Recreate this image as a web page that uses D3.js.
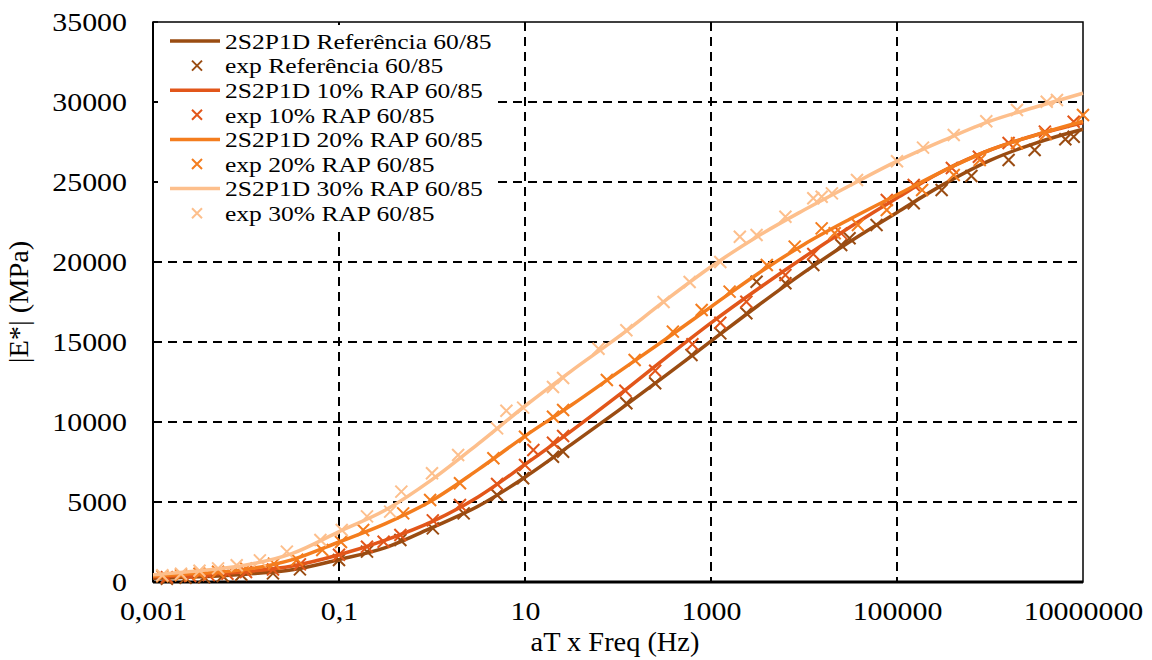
<!DOCTYPE html>
<html>
<head>
<meta charset="utf-8">
<script src="https://cdn.jsdelivr.net/npm/d3@7"></script>
<style>
  body { margin: 0; background: #fff; }
  svg { display: block; }
</style>
</head>
<body>
<svg id="chart"></svg>
<script>
// model curves (2S2P1D), sampled every half decade
const modelFreq = [0.001, 0.00316, 0.01, 0.0316, 0.1, 0.316, 1, 3.16, 10, 31.6, 100, 316, 1000, 3162, 10000, 31623, 100000, 316228, 1000000, 3162278, 10000000];
const modelRef = [230, 330, 490, 760, 1400, 2150, 3400, 4750, 6550, 8600, 10700, 12850, 15050, 17250, 19350, 21300, 23100, 24850, 26350, 27450, 28300];
const model10 = [330, 440, 650, 1000, 1700, 2620, 3770, 5330, 7350, 9450, 11650, 13950, 16200, 18300, 20300, 22200, 24000, 25700, 27000, 27950, 28700];
const model20 = [375, 540, 790, 1400, 2500, 3650, 5100, 7040, 9120, 11060, 13100, 15125, 17200, 19250, 21100, 22700, 24200, 25700, 27000, 27950, 28800];
const model30 = [460, 710, 1060, 1790, 3150, 4500, 6400, 8650, 11000, 13200, 15300, 17550, 19700, 21600, 23250, 24800, 26300, 27600, 28800, 29700, 30550];

// experimental points
const expRefFreq = [0.00141, 0.00224, 0.00355, 0.00562, 0.00891, 0.0195, 0.038, 0.1, 0.2, 0.457, 1.02, 2.19, 5.01, 9.55, 20, 25.7, 123, 251, 617, 1259, 2399, 3090, 6310, 12589, 25119, 30903, 60256, 151356, 301995, 630957, 1584893, 3019952, 6456542, 7943282];
const expRef = [200, 260, 300, 380, 450, 540, 790, 1375, 1900, 2625, 3350, 4290, 5440, 6480, 7830, 8140, 11170, 12420, 14190, 15540, 16800, 18770, 18670, 19810, 21060, 21480, 22310, 23670, 24500, 25375, 26375, 27000, 27670, 27830];

const exp10Freq = [0.00141, 0.00251, 0.00398, 0.00631, 0.01, 0.0195, 0.038, 0.1, 0.2, 0.302, 0.457, 1.02, 2.0, 5.01, 10, 12.3, 20, 25.7, 120, 251, 631, 1259, 2399, 6310, 12589, 25119, 77625, 151356, 389045, 758578, 1584893, 3890451, 7943282];
const exp10 = [300, 380, 430, 520, 620, 780, 1100, 1700, 2200, 2520, 2940, 3850, 4810, 6120, 7310, 8250, 8700, 9130, 11950, 13200, 14860, 16200, 17520, 19190, 20500, 21790, 23875, 24810, 25880, 26580, 27440, 28150, 28770];

const exp20Freq = [0.00126, 0.002, 0.00316, 0.00501, 0.01, 0.02, 0.0355, 0.0661, 0.105, 0.182, 0.49, 0.955, 2.0, 4.57, 10, 20, 25.7, 75.9, 151, 389, 794, 1585, 3981, 7943, 15488, 21380, 38019, 77625, 186209, 407380, 776247, 1949845, 3981072, 10000000];
const exp20 = [350, 420, 520, 640, 850, 1150, 1400, 2000, 2500, 3250, 4290, 5125, 6170, 7730, 9080, 10330, 10750, 12625, 13875, 15650, 17000, 18150, 19810, 20960, 22100, 21800, 22310, 23250, 24500, 25440, 26375, 27420, 28000, 29190];

const exp30Freq = [0.00126, 0.002, 0.00316, 0.00501, 0.00794, 0.0141, 0.0275, 0.0631, 0.107, 0.2, 0.355, 0.468, 1, 1.91, 5.01, 6.31, 9.55, 20, 25.7, 61.7, 123, 309, 589, 1259, 2042, 3090, 6310, 12589, 15488, 19953, 37154, 100000, 190546, 407380, 912011, 1949845, 4073803, 5248075];
const exp30 = [420, 520, 700, 850, 1050, 1350, 1900, 2625, 3250, 4100, 4400, 5650, 6800, 7940, 9600, 10700, 10900, 12190, 12750, 14580, 15730, 17500, 18750, 20000, 21580, 21690, 22830, 23980, 24080, 24290, 25125, 26300, 27150, 27940, 28800, 29500, 30020, 30125];

const xTicks = [0.001, 0.1, 10, 1000, 100000, 10000000];
const xTickLabels = ['0,001', '0,1', '10', '1000', '100000', '10000000'];
const yTicks = [0, 5000, 10000, 15000, 20000, 25000, 30000, 35000];

const seriesNames = ['Referência 60/85', '10% RAP 60/85', '20% RAP 60/85', '30% RAP 60/85'];
const colors = ['#9a4c12', '#e2561a', '#f47d1e', '#fdbf8c'];

const width = 1152, height = 660;
const margin = { top: 22, right: 69, bottom: 78, left: 153 };
const w = width - margin.left - margin.right;
const h = height - margin.top - margin.bottom;
const font = "'Liberation Serif', 'Times New Roman', serif";

const svg = d3.select('#chart')
  .attr('width', width)
  .attr('height', height)
  .style('font-family', font);

const g = svg.append('g')
  .attr('transform', `translate(${margin.left},${margin.top})`);

const x = d3.scaleLog().domain([0.001, 10000000]).range([0, w]);
const y = d3.scaleLinear().domain([0, 35000]).range([h, 0]);

// widen text a bit, the original font is wider than Liberation Serif
const stretch = (sel, k) => {
  sel.each(function () {
    const len = this.getComputedTextLength();
    d3.select(this).attr('textLength', len * k).attr('lengthAdjust', 'spacingAndGlyphs');
  });
};

// grid
g.append('g')
  .selectAll('line')
  .data(xTicks.slice(1, -1))
  .enter()
  .append('line')
  .attr('x1', d => x(d)).attr('x2', d => x(d))
  .attr('y1', 0).attr('y2', h)
  .attr('stroke', '#000')
  .attr('stroke-width', 2)
  .attr('stroke-dasharray', '9,6');

g.append('g')
  .selectAll('line')
  .data(yTicks.slice(1, -1))
  .enter()
  .append('line')
  .attr('x1', 0).attr('x2', w)
  .attr('y1', d => y(d)).attr('y2', d => y(d))
  .attr('stroke', '#000')
  .attr('stroke-width', 2)
  .attr('stroke-dasharray', '9,6');

// axes
const xAxis = g.append('g')
  .attr('transform', `translate(0,${h})`)
  .call(d3.axisBottom(x).tickValues(xTicks).tickFormat((d, i) => xTickLabels[i]).tickSize(0).tickPadding(20));
xAxis.select('.domain').remove();
xAxis.selectAll('text')
  .attr('font-family', font)
  .attr('font-size', 26)
  .attr('fill', '#000')
  .call(stretch, 1.15);

const yAxis = g.append('g')
  .call(d3.axisLeft(y).tickValues(yTicks).tickFormat(d3.format('d')).tickSize(0).tickPadding(26));
yAxis.select('.domain').remove();
yAxis.selectAll('text')
  .attr('font-family', font)
  .attr('font-size', 26)
  .attr('fill', '#000')
  .call(stretch, 1.15);

// small inside ticks on the left axis
g.append('g')
  .selectAll('line')
  .data(yTicks)
  .enter()
  .append('line')
  .attr('x1', 0).attr('x2', 5)
  .attr('y1', d => y(d)).attr('y2', d => y(d))
  .attr('stroke', '#000')
  .attr('stroke-width', 1.5);

// frame
g.append('rect')
  .attr('x', 0).attr('y', 0)
  .attr('width', w).attr('height', h)
  .attr('fill', 'none')
  .attr('stroke', '#000')
  .attr('stroke-width', 1.5);
g.append('line')
  .attr('x1', 0).attr('x2', w)
  .attr('y1', h).attr('y2', h)
  .attr('stroke', '#000')
  .attr('stroke-width', 3);
g.append('line')
  .attr('x1', 0).attr('x2', 0)
  .attr('y1', 0).attr('y2', h)
  .attr('stroke', '#000')
  .attr('stroke-width', 2);

// axis titles
svg.append('text')
  .attr('x', margin.left + w / 2 - 3)
  .attr('y', 651)
  .attr('text-anchor', 'middle')
  .attr('font-size', 27)
  .text('aT x Freq (Hz)')
  .call(stretch, 1.05);

svg.append('text')
  .attr('transform', `translate(28,${margin.top + h / 2}) rotate(-90)`)
  .attr('text-anchor', 'middle')
  .attr('font-size', 27)
  .text('|E*| (MPa)')
  .call(stretch, 1.05);

// data
const models = [modelRef, model10, model20, model30];
const exps = [[expRefFreq, expRef], [exp10Freq, exp10], [exp20Freq, exp20], [exp30Freq, exp30]];

const line = d3.line()
  .x(d => x(d[0]))
  .y(d => y(d[1]))
  .curve(d3.curveMonotoneX);

const plot = g.append('g');
const cross = 6;

models.forEach((vals, i) => {
  plot.append('path')
    .datum(modelFreq.map((f, j) => [f, vals[j]]))
    .attr('fill', 'none')
    .attr('stroke', colors[i])
    .attr('stroke-width', 3.5)
    .attr('d', line);

  const pts = exps[i][0].map((f, j) => [f, exps[i][1][j]]);
  plot.append('g')
    .selectAll('path')
    .data(pts)
    .enter()
    .append('path')
    .attr('d', d => {
      const cx = x(d[0]), cy = y(d[1]);
      return `M${cx - cross},${cy - cross}L${cx + cross},${cy + cross}M${cx - cross},${cy + cross}L${cx + cross},${cy - cross}`;
    })
    .attr('stroke', colors[i])
    .attr('stroke-width', 2)
    .attr('fill', 'none');
});

// legend
const legend = svg.append('g');
legend.append('rect')
  .attr('x', 158).attr('y', 25)
  .attr('width', 338).attr('height', 201)
  .attr('fill', '#fff');

const legendItems = [];
seriesNames.forEach((name, i) => {
  legendItems.push({ type: 'line', label: `2S2P1D ${name}`, color: colors[i] });
  legendItems.push({ type: 'exp', label: `exp ${name}`, color: colors[i] });
});

const rows = legend.selectAll('g.row')
  .data(legendItems)
  .enter()
  .append('g')
  .attr('class', 'row')
  .attr('transform', (d, i) => `translate(0,${41 + i * 24.6})`);

rows.filter(d => d.type === 'line')
  .append('line')
  .attr('x1', 170).attr('x2', 220)
  .attr('y1', 0).attr('y2', 0)
  .attr('stroke', d => d.color)
  .attr('stroke-width', 3.5);

rows.filter(d => d.type === 'exp')
  .append('path')
  .attr('d', `M${197 - 5},-5L${197 + 5},5M${197 - 5},5L${197 + 5},-5`)
  .attr('stroke', d => d.color)
  .attr('stroke-width', 2);

rows.append('text')
  .attr('x', 225)
  .attr('y', 0)
  .attr('dy', '0.35em')
  .attr('font-size', 22)
  .text(d => d.label)
  .call(stretch, 1.16);
</script>
</body>
</html>
